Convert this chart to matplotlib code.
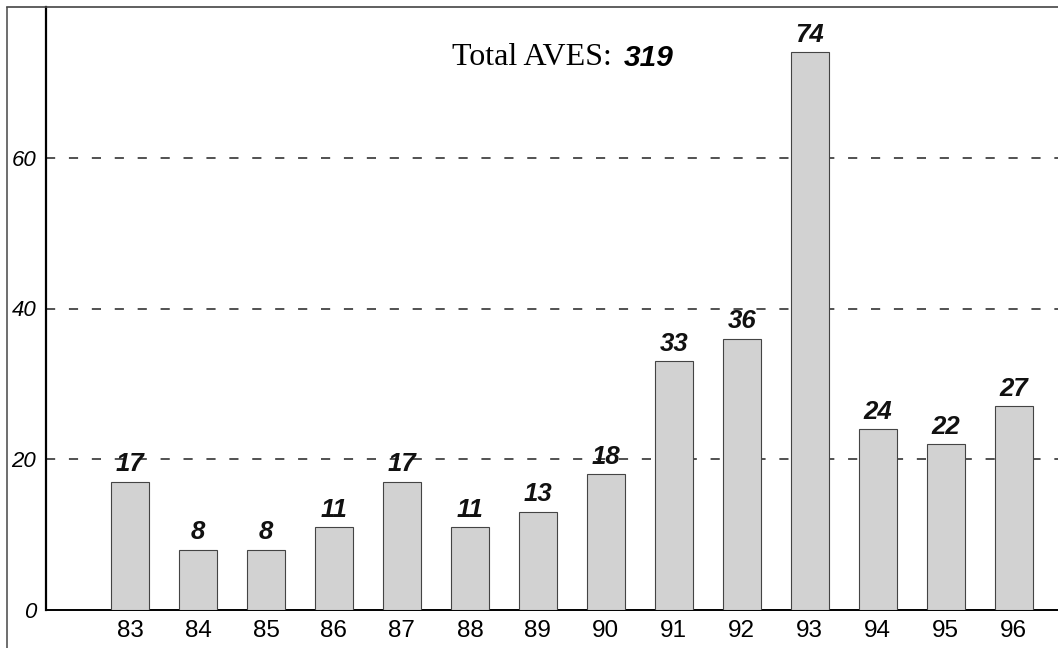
import matplotlib
matplotlib.use("Agg")
import numpy as np
from matplotlib import pyplot as plt
from matplotlib.lines import Line2D

# datos: aves por año
years = ["83", "84", "85", "86", "87", "88", "89", "90", "91", "92", "93", "94", "95", "96"]
counts = [17, 8, 8, 11, 17, 11, 13, 18, 33, 36, 74, 24, 22, 27]
total = sum(counts)
y_ticks = [0, 20, 40, 60]

W, H = 1058, 648
plt.rcParams["font.family"] = ["Liberation Sans", "DejaVu Sans"]

fig = plt.figure(figsize=(W / 100, H / 100), dpi=100)
ax = fig.add_axes([46 / W, 1 - 610 / H, 1 - 46 / W, 603 / H])

x = np.arange(len(years))
ax.bar(x, counts, width=0.56, color="#d2d2d2", edgecolor="#444444", linewidth=0.8, zorder=3)

for xi, v in zip(x, counts):
    ax.annotate(str(v), (xi, v), xytext=(0, 4), textcoords="offset points",
                ha="center", va="bottom", fontsize=18.5, fontweight="bold",
                fontstyle="italic", color="#111111", zorder=4)

for yv in y_ticks[1:]:
    ax.axhline(yv, color="#222222", linestyle=(0, (6, 9)), linewidth=1.1, zorder=1)

ax.set_xlim(-1.235, 13.65)
ax.set_ylim(0, 80)
ax.set_xticks(x)
ax.set_xticklabels(years, fontsize=17.5)
ax.set_yticks(y_ticks)
ax.set_yticklabels([str(t) for t in y_ticks], fontsize=16, fontstyle="italic")
ax.tick_params(axis="x", length=0, pad=7)
ax.tick_params(axis="y", length=0, pad=7)

ax.spines["top"].set_visible(False)
ax.spines["right"].set_visible(False)
ax.spines["left"].set_linewidth(1.6)
ax.spines["bottom"].set_linewidth(1.4)

t1 = ax.text(0.401, 0.903, "Total AVES:", transform=ax.transAxes, fontsize=23,
             family="Liberation Serif", va="baseline", ha="left")
ax.annotate(str(total), xy=(1, 0), xycoords=t1, xytext=(9, 0), textcoords="offset points",
            fontsize=21.5, fontweight="bold", fontstyle="italic", va="bottom", ha="left")

# marco exterior
fig.add_artist(Line2D([7 / W, 7 / W], [0, 1 - 8 / H], color="#555555", linewidth=1.2))
fig.add_artist(Line2D([7 / W, 1], [1 - 7 / H, 1 - 7 / H], color="#444444", linewidth=1.2))

fig.savefig("out.png", dpi=100)
